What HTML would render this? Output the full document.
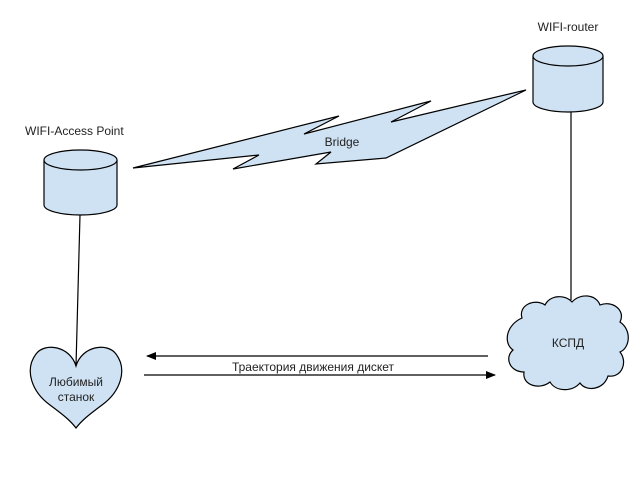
<!DOCTYPE html>
<html><head><meta charset="utf-8"><style>
html,body{margin:0;padding:0;background:#fff;}
svg{display:block;}
text{font-family:"Liberation Sans",sans-serif;font-size:12px;fill:#222;}
</style></head><body>
<svg width="640" height="480" viewBox="0 0 640 480" xmlns="http://www.w3.org/2000/svg">
<defs>
<marker id="ah" markerWidth="10" markerHeight="8" refX="9" refY="4" orient="auto" markerUnits="userSpaceOnUse">
<path d="M0,0 L10,4 L0,8 Z" fill="#000"/></marker>
</defs>
<g stroke="#000" stroke-width="1.2" fill="#cfe2f3">
<path d="M44,160 L44,205 A36.5,10 0 0 0 117,205 L117,160"/>
<ellipse cx="80.5" cy="160" rx="36.5" ry="10"/>
<path d="M533,56 L533,102 A35,10 0 0 0 603,102 L603,56"/>
<ellipse cx="568" cy="56" rx="35" ry="10"/>
<path d="M133,168 L339,116 L304,134 L431,101 L391,122 L526,90 L386,158 L316,164 L331,152 L233,169 L259,155 Z" stroke-linejoin="miter"/>
<path d="M76,366 C70,346 45,342 36,354 C24,370 32,392 50,405 C62,414 70,420 76,428 C82,420 90,414 102,405 C120,392 128,370 116,354 C107,342 82,346 76,366 Z"/>
<path d="M522,318 C518,305 535,298 545,305 C550,295 565,294 572,302 C580,293 596,294 600,305 C612,300 626,310 620,322 C632,330 630,348 620,352 C628,362 622,378 608,376 C604,390 586,392 580,383 C572,392 556,392 550,382 C540,390 522,386 524,372 C510,372 504,358 513,350 C503,343 506,325 522,318 Z"/>
</g>
<g stroke="#000" stroke-width="1.2" fill="none">
<line x1="80" y1="215" x2="76" y2="366"/>
<line x1="571" y1="112" x2="571" y2="300"/>
<line x1="488" y1="356" x2="147" y2="356" marker-end="url(#ah)"/>
<line x1="144" y1="375" x2="495" y2="375" marker-end="url(#ah)"/>
</g>
<text x="25" y="135">WIFI-Access Point</text>
<text x="568" y="31" text-anchor="middle">WIFI-router</text>
<text x="342" y="146" text-anchor="middle">Bridge</text>
<text x="313" y="371" text-anchor="middle">Траектория движения дискет</text>
<text x="568" y="347" text-anchor="middle">КСПД</text>
<text x="76" y="386" text-anchor="middle">Любимый</text>
<text x="76" y="401" text-anchor="middle">станок</text>
</svg>
</body></html>
